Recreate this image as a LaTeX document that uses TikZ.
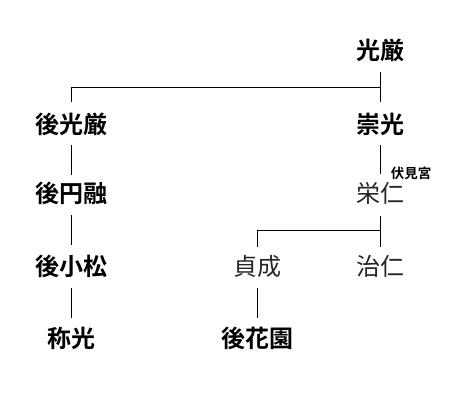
\documentclass[tikz,border=0pt]{standalone}
\usepackage{fontspec}
\newfontfamily\jpr{Noto Sans CJK JP}
\newfontfamily\jpb{Noto Sans CJK JP Bold}
\begin{document}
\begin{tikzpicture}[x=1pt,y=-1pt,
  emp/.style={font=\jpb\fontsize{24}{24}\selectfont, inner sep=0pt, anchor=center},
  prn/.style={font=\jpr\fontsize{24}{24}\selectfont, inner sep=0pt, anchor=center, text=black!85},
  note/.style={font=\jpb\fontsize{13.5}{13.5}\selectfont, inner sep=0pt, anchor=center},
  ln/.style={draw=black, line width=0.9pt}]
\useasboundingbox (0,0) rectangle (470,402);
\node[emp] (kogon) at (380,50) {光厳};
\node[emp] (gokogon) at (71,124) {後光厳};
\node[emp] (suko) at (380,124) {崇光};
\node[emp] (goenyu) at (71,193) {後円融};
\node[prn] (yoshihito) at (380,193) {栄仁};
\node[note] (fushimi) at (411,173) {伏見宮};
\node[emp] (gokomatsu) at (71,266) {後小松};
\node[prn] (sadafusa) at (257,266) {貞成};
\node[prn] (haruhito) at (380,266) {治仁};
\node[emp] (shoko) at (71,338) {称光};
\node[emp] (gohanazono) at (257,338) {後花園};
% connectors
\coordinate (j1) at (380,87);
\coordinate (j2) at (380,230);
\draw[ln] (380,72) -- (380,102);
\draw[ln] (j1) -| (71,102);
\draw[ln] (71,145) -- (71,175);
\draw[ln] (71,215) -- (71,245);
\draw[ln] (71,288) -- (71,318);
\draw[ln] (380,145) -- (380,174);
\draw[ln] (380,216) -- (380,247);
\draw[ln] (j2) -| (257,247);
\draw[ln] (257,288) -- (257,318);
\end{tikzpicture}
\end{document}
